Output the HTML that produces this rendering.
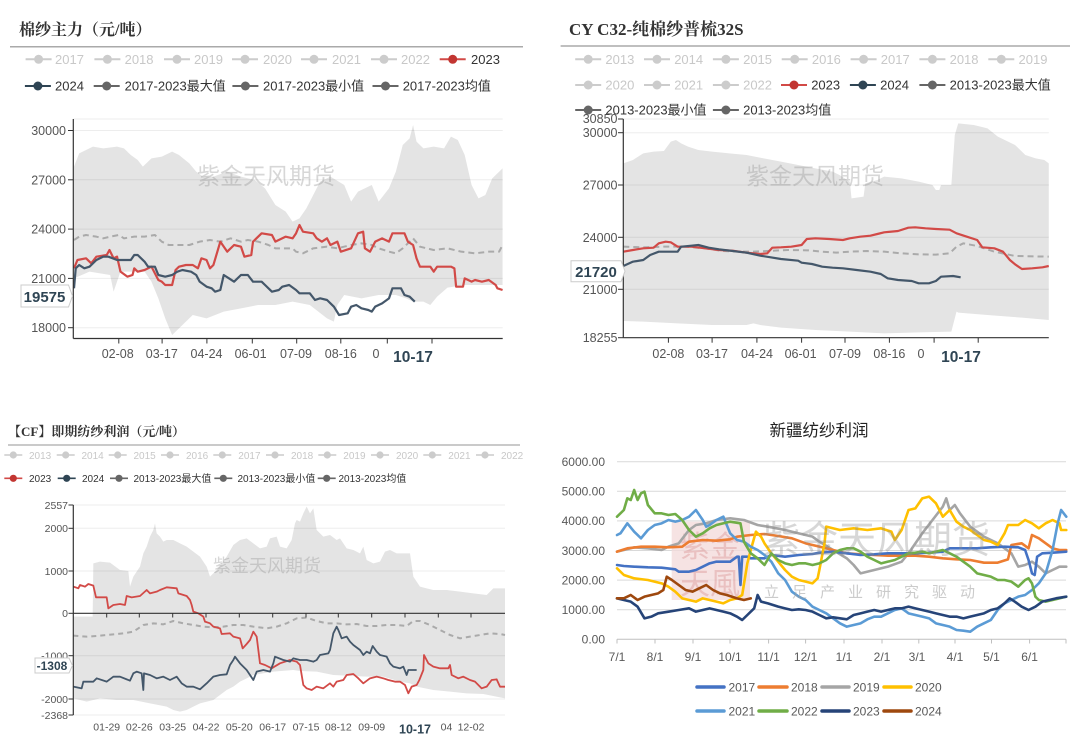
<!DOCTYPE html>
<html><head><meta charset="utf-8">
<style>
html,body{margin:0;padding:0;background:#fff;}
svg{display:block;}
text{font-family:"Liberation Sans","Noto Sans CJK SC",sans-serif;}
.t{font-family:"Liberation Serif","Noto Serif CJK SC",serif;font-weight:bold;fill:#333;}
.ax{font-size:12.5px;fill:#555;}
.ax3{font-size:10.5px;fill:#555;}
.ax4{font-size:12px;fill:#595959;}
.lg{font-size:13px;fill:#333;}
.lgd{font-size:13px;fill:#c8c8c8;}
.lg3{font-size:10px;fill:#333;}
.lg3d{font-size:10px;fill:#c8c8c8;}
.wm{font-family:"Liberation Sans","Noto Sans CJK SC",sans-serif;fill:rgba(150,150,150,0.38);}
.hv{font-weight:bold;fill:#2f4554;}
</style></head><body>
<svg width="1080" height="740" viewBox="0 0 1080 740" xmlns="http://www.w3.org/2000/svg">

<!-- ================= PANEL 1 ================= -->
<text class="t" x="19" y="35" font-size="16">棉纱主力（元/吨）</text>
<line x1="10" y1="46.7" x2="523" y2="46.7" stroke="#aaa" stroke-width="1.5"/>
<g stroke-width="2">
<line x1="25.6" y1="59.3" x2="51.6" y2="59.3" stroke="#ccc"/><circle cx="38.6" cy="59.3" r="4.5" fill="#ccc"/>
<line x1="94.4" y1="59.3" x2="120.4" y2="59.3" stroke="#ccc"/><circle cx="107.4" cy="59.3" r="4.5" fill="#ccc"/>
<line x1="164" y1="59.3" x2="190" y2="59.3" stroke="#ccc"/><circle cx="177" cy="59.3" r="4.5" fill="#ccc"/>
<line x1="232" y1="59.3" x2="258" y2="59.3" stroke="#ccc"/><circle cx="245" cy="59.3" r="4.5" fill="#ccc"/>
<line x1="301" y1="59.3" x2="327" y2="59.3" stroke="#ccc"/><circle cx="314" cy="59.3" r="4.5" fill="#ccc"/>
<line x1="371" y1="59.3" x2="397" y2="59.3" stroke="#ccc"/><circle cx="384" cy="59.3" r="4.5" fill="#ccc"/>
<line x1="439.7" y1="59.3" x2="465.7" y2="59.3" stroke="#d24a47"/><circle cx="452.7" cy="59.3" r="4.5" fill="#c23531"/>
<line x1="24.9" y1="86" x2="50.9" y2="86" stroke="#2f4554"/><circle cx="37.9" cy="86" r="4.5" fill="#2f4554"/>
<line x1="93.7" y1="86" x2="119.7" y2="86" stroke="#666"/><circle cx="106.7" cy="86" r="4.5" fill="#666"/>
<line x1="232.4" y1="86" x2="258.4" y2="86" stroke="#666"/><circle cx="245.4" cy="86" r="4.5" fill="#666"/>
<line x1="372.5" y1="86" x2="398.5" y2="86" stroke="#666"/><circle cx="385.5" cy="86" r="4.5" fill="#666"/>
</g>
<text class="lgd" x="55" y="64">2017</text>
<text class="lgd" x="124.6" y="64">2018</text>
<text class="lgd" x="194" y="64">2019</text>
<text class="lgd" x="263" y="64">2020</text>
<text class="lgd" x="332" y="64">2021</text>
<text class="lgd" x="401" y="64">2022</text>
<text class="lg" x="471" y="64">2023</text>
<text class="lg" x="55" y="90.5">2024</text>
<text class="lg" x="124.6" y="90.5">2017-2023最大值</text>
<text class="lg" x="263" y="90.5">2017-2023最小值</text>
<text class="lg" x="402.7" y="90.5">2017-2023均值</text>

<g transform="translate(0,105) scale(0.34423,0.33333)">
<polygon fill="#e4e4e4" points="215,185 230,145 270,125 300,130 340,125 360,130 380,150 400,165 415,185 440,160 470,155 500,140 520,150 550,175 570,200 590,215 620,215 660,200 700,215 740,225 770,250 800,300 830,320 850,350 870,340 890,310 910,270 930,230 960,215 1000,240 1020,290 1040,260 1080,240 1100,290 1130,250 1150,200 1170,120 1190,100 1200,60 1210,110 1230,130 1260,125 1290,130 1310,95 1330,105 1350,150 1370,240 1390,280 1410,270 1430,220 1460,190 1460,540 1400,540 1350,540 1300,548 1270,575 1250,600 1230,590 1200,590 1180,580 1150,570 1100,570 1050,580 1000,570 980,600 970,650 950,640 900,600 850,590 800,600 750,600 700,610 650,620 600,640 560,630 540,650 520,670 500,690 480,640 460,580 440,530 420,500 350,500 330,560 320,510 260,500 215,520"/>
</g>
<g stroke="rgba(0,0,0,0.07)" stroke-width="1">
<line x1="73.3" y1="119" x2="502.7" y2="119"/>
<line x1="73.3" y1="130.5" x2="502.7" y2="130.5"/>
<line x1="73.3" y1="179.8" x2="502.7" y2="179.8"/>
<line x1="73.3" y1="229.1" x2="502.7" y2="229.1"/>
<line x1="73.3" y1="278.4" x2="502.7" y2="278.4"/>
<line x1="73.3" y1="327.7" x2="502.7" y2="327.7"/>
</g>
<text class="wm" x="266" y="184" font-size="23" text-anchor="middle">紫金天风期货</text>
<g transform="translate(0,105) scale(0.34423,0.33333)" fill="none" stroke-linejoin="round">
<polyline vector-effect="non-scaling-stroke" stroke="#aaa" stroke-width="2" stroke-dasharray="6,4" points="215,405 230,395 250,390 280,395 300,400 320,395 345,390 360,400 390,395 420,395 450,390 470,410 490,420 520,420 550,420 580,410 610,405 640,410 670,400 700,410 720,405 750,410 780,420 800,430 830,430 850,430 860,440 880,445 910,430 950,425 980,430 1020,420 1050,415 1080,420 1100,430 1130,440 1150,445 1170,430 1200,400 1220,425 1260,435 1300,430 1340,440 1380,445 1420,440 1450,440 1460,420"/>
<polyline vector-effect="non-scaling-stroke" stroke="#d24a47" stroke-width="2.2" points="215,490 225,465 250,460 265,475 280,455 310,450 318,435 330,460 340,455 350,500 370,515 385,510 390,490 400,500 420,495 440,485 460,525 470,530 480,540 500,540 510,495 520,485 540,480 560,480 575,490 585,460 600,465 610,490 620,480 640,410 660,440 680,420 700,425 710,455 730,450 735,410 760,385 790,390 800,410 830,395 850,400 860,385 870,360 880,380 910,385 920,400 935,410 950,400 960,420 980,410 990,440 1020,430 1040,385 1055,380 1060,430 1075,440 1090,410 1110,400 1130,410 1140,385 1175,385 1185,410 1200,420 1210,460 1220,485 1250,485 1260,500 1270,485 1310,485 1320,490 1325,545 1345,545 1350,520 1370,530 1380,525 1400,530 1420,525 1440,540 1445,550 1460,555"/>
<polyline vector-effect="non-scaling-stroke" stroke="#44576a" stroke-width="2.2" points="215,550 220,490 230,480 245,490 260,485 280,465 300,455 315,455 340,465 380,465 390,450 400,450 420,470 430,485 450,485 460,510 480,515 500,510 515,500 530,495 555,500 570,510 580,530 600,545 615,550 625,560 640,555 650,510 665,520 680,530 700,510 720,510 735,530 760,530 770,540 790,560 810,555 820,545 840,540 860,555 870,565 900,565 915,585 930,580 950,585 970,605 985,630 1010,625 1020,605 1035,600 1050,610 1070,615 1080,620 1090,605 1100,600 1110,595 1130,580 1140,550 1165,550 1175,570 1190,575 1205,590"/>
</g>
<line x1="73.3" y1="119" x2="73.3" y2="338.5" stroke="#333" stroke-width="1.2"/>
<line x1="73.3" y1="338.5" x2="502.7" y2="338.5" stroke="#333" stroke-width="1.2"/>
<g stroke="#333" stroke-width="1">
<line x1="68" y1="130.5" x2="73.3" y2="130.5"/><line x1="68" y1="179.8" x2="73.3" y2="179.8"/><line x1="68" y1="229.1" x2="73.3" y2="229.1"/><line x1="68" y1="278.4" x2="73.3" y2="278.4"/><line x1="68" y1="327.7" x2="73.3" y2="327.7"/>
<line x1="118.8" y1="338.5" x2="118.8" y2="343.5"/><line x1="162.1" y1="338.5" x2="162.1" y2="343.5"/><line x1="206.9" y1="338.5" x2="206.9" y2="343.5"/><line x1="252.3" y1="338.5" x2="252.3" y2="343.5"/><line x1="296.7" y1="338.5" x2="296.7" y2="343.5"/><line x1="340.8" y1="338.5" x2="340.8" y2="343.5"/><line x1="387.3" y1="338.5" x2="387.3" y2="343.5"/><line x1="432" y1="338.5" x2="432" y2="343.5"/>
</g>
<g class="ax" text-anchor="end">
<text x="66" y="135">30000</text><text x="66" y="184.3">27000</text><text x="66" y="233.6">24000</text><text x="66" y="282.9">21000</text><text x="66" y="332.2">18000</text>
</g>
<g class="ax" text-anchor="middle">
<text x="117.7" y="358">02-08</text><text x="161.8" y="358">03-17</text><text x="206.5" y="358">04-24</text><text x="250.6" y="358">06-01</text><text x="296" y="358">07-09</text><text x="340.8" y="358">08-16</text><text x="376" y="358">0</text>
</g>
<text class="hv" x="413" y="362" font-size="15.5" text-anchor="middle">10-17</text>
<path d="M21,285 H68.5 L72.5,296 L68.5,307 H21 Z" fill="#fff" stroke="#ccc" stroke-width="1"/>
<text class="hv" x="44.5" y="302" font-size="15" text-anchor="middle">19575</text>

<!-- ================= PANEL 2 ================= -->
<text class="t" x="569" y="35" font-size="17">CY C32-纯棉纱普梳32S</text>
<line x1="560.6" y1="46" x2="1070" y2="46" stroke="#aaa" stroke-width="1.5"/>
<g stroke-width="2">
<line x1="575.2" y1="59.3" x2="601.2" y2="59.3" stroke="#ccc"/><circle cx="588.2" cy="59.3" r="4.5" fill="#ccc"/>
<line x1="644" y1="59.3" x2="670" y2="59.3" stroke="#ccc"/><circle cx="657" cy="59.3" r="4.5" fill="#ccc"/>
<line x1="712.9" y1="59.3" x2="738.9" y2="59.3" stroke="#ccc"/><circle cx="725.9" cy="59.3" r="4.5" fill="#ccc"/>
<line x1="781.7" y1="59.3" x2="807.7" y2="59.3" stroke="#ccc"/><circle cx="794.7" cy="59.3" r="4.5" fill="#ccc"/>
<line x1="850.6" y1="59.3" x2="876.6" y2="59.3" stroke="#ccc"/><circle cx="863.6" cy="59.3" r="4.5" fill="#ccc"/>
<line x1="919.4" y1="59.3" x2="945.4" y2="59.3" stroke="#ccc"/><circle cx="932.4" cy="59.3" r="4.5" fill="#ccc"/>
<line x1="988.3" y1="59.3" x2="1014.3" y2="59.3" stroke="#ccc"/><circle cx="1001.3" cy="59.3" r="4.5" fill="#ccc"/>
<line x1="575.2" y1="85" x2="601.2" y2="85" stroke="#ccc"/><circle cx="588.2" cy="85" r="4.5" fill="#ccc"/>
<line x1="644" y1="85" x2="670" y2="85" stroke="#ccc"/><circle cx="657" cy="85" r="4.5" fill="#ccc"/>
<line x1="712.9" y1="85" x2="738.9" y2="85" stroke="#ccc"/><circle cx="725.9" cy="85" r="4.5" fill="#ccc"/>
<line x1="781" y1="85" x2="807" y2="85" stroke="#d24a47"/><circle cx="794" cy="85" r="4.5" fill="#c23531"/>
<line x1="849.9" y1="85" x2="875.9" y2="85" stroke="#2f4554"/><circle cx="862.9" cy="85" r="4.5" fill="#2f4554"/>
<line x1="919.4" y1="85" x2="945.4" y2="85" stroke="#666"/><circle cx="932.4" cy="85" r="4.5" fill="#666"/>
</g>
<g class="ax" text-anchor="end">
<text x="617.5" y="123">30850</text>
</g>
<g stroke-width="2">
<line x1="575.2" y1="110" x2="601.2" y2="110" stroke="#666"/><circle cx="588.2" cy="110" r="4.5" fill="#666"/>
<line x1="712.9" y1="110" x2="738.9" y2="110" stroke="#666"/><circle cx="725.9" cy="110" r="4.5" fill="#666"/>
</g>
<text class="lgd" x="605.4" y="64">2013</text><text class="lgd" x="674.2" y="64">2014</text><text class="lgd" x="743.1" y="64">2015</text><text class="lgd" x="811.9" y="64">2016</text><text class="lgd" x="880.8" y="64">2017</text><text class="lgd" x="949.6" y="64">2018</text><text class="lgd" x="1018.5" y="64">2019</text>
<text class="lgd" x="605.4" y="89.5">2020</text><text class="lgd" x="674.2" y="89.5">2021</text><text class="lgd" x="743.1" y="89.5">2022</text><text class="lg" x="811.2" y="89.5">2023</text><text class="lg" x="880.1" y="89.5">2024</text><text class="lg" x="949.6" y="89.5">2013-2023最大值</text>
<text class="lg" x="605.4" y="114.5">2013-2023最小值</text><text class="lg" x="743.1" y="114.5">2013-2023均值</text>

<g transform="translate(540,105) scale(0.34423,0.33333)">
<polygon fill="#e4e4e4" points="242,175 270,165 300,145 330,140 360,138 380,110 395,105 410,115 430,125 460,135 500,140 550,145 600,150 650,160 700,170 750,180 800,190 850,200 870,210 900,230 905,280 940,275 945,235 980,225 1000,215 1050,220 1100,230 1140,240 1150,255 1160,255 1165,240 1195,240 1205,90 1215,55 1260,60 1300,70 1330,95 1380,120 1410,150 1440,160 1465,165 1478,175 1478,645 1400,638 1300,630 1215,623 1210,620 1195,680 1100,682 1000,685 900,680 800,675 700,668 640,660 620,655 600,660 500,660 400,655 300,650 242,648"/>
</g>
<g stroke="rgba(0,0,0,0.07)" stroke-width="1">
<line x1="623.3" y1="119" x2="1048.8" y2="119"/>
<line x1="623.3" y1="132.7" x2="1048.8" y2="132.7"/>
<line x1="623.3" y1="185" x2="1048.8" y2="185"/>
<line x1="623.3" y1="237.3" x2="1048.8" y2="237.3"/>
<line x1="623.3" y1="289.3" x2="1048.8" y2="289.3"/>
</g>
<text class="wm" x="815" y="184" font-size="23" text-anchor="middle">紫金天风期货</text>
<g transform="translate(540,105) scale(0.34423,0.33333)" fill="none" stroke-linejoin="round">
<polyline vector-effect="non-scaling-stroke" stroke="#aaa" stroke-width="2" stroke-dasharray="6,4" points="242,425 300,427 360,425 420,425 480,430 530,438 580,440 620,440 680,437 720,435 780,436 820,440 860,443 900,440 950,438 1000,440 1050,445 1100,448 1150,449 1190,445 1210,425 1230,415 1270,423 1320,440 1380,453 1478,455"/>
<polyline vector-effect="non-scaling-stroke" stroke="#d24a47" stroke-width="2.2" points="242,440 270,435 300,430 330,428 345,415 365,410 380,412 400,425 440,425 480,430 520,435 560,437 600,443 640,447 660,445 675,428 700,427 730,425 760,420 775,402 800,400 840,402 880,405 900,400 930,395 960,392 980,387 1000,382 1040,378 1070,368 1090,367 1120,370 1150,372 1190,374 1210,385 1240,395 1270,405 1285,427 1320,430 1345,440 1365,465 1380,478 1400,492 1430,490 1460,487 1478,483"/>
<polyline vector-effect="non-scaling-stroke" stroke="#44576a" stroke-width="2.2" points="242,483 270,470 300,465 320,450 345,440 400,440 410,425 440,422 460,420 490,428 520,433 560,438 600,443 640,452 670,457 700,462 750,467 760,473 790,477 820,485 850,488 880,490 920,495 960,500 990,507 1010,520 1040,525 1080,528 1100,535 1130,535 1150,528 1165,515 1200,513 1222,517"/>
</g>
<line x1="623.3" y1="119" x2="623.3" y2="337.7" stroke="#333" stroke-width="1.2"/>
<line x1="623.3" y1="337.7" x2="1048.8" y2="337.7" stroke="#333" stroke-width="1.2"/>
<g stroke="#333" stroke-width="1">
<line x1="618" y1="132.7" x2="623.3" y2="132.7"/><line x1="618" y1="185" x2="623.3" y2="185"/><line x1="618" y1="237.3" x2="623.3" y2="237.3"/><line x1="618" y1="289.3" x2="623.3" y2="289.3"/><line x1="618" y1="337.7" x2="623.3" y2="337.7"/><line x1="618" y1="119" x2="623.3" y2="119"/>
<line x1="668.4" y1="337.7" x2="668.4" y2="342.7"/><line x1="712.1" y1="337.7" x2="712.1" y2="342.7"/><line x1="756.9" y1="337.7" x2="756.9" y2="342.7"/><line x1="801.6" y1="337.7" x2="801.6" y2="342.7"/><line x1="845" y1="337.7" x2="845" y2="342.7"/><line x1="889.4" y1="337.7" x2="889.4" y2="342.7"/><line x1="934.1" y1="337.7" x2="934.1" y2="342.7"/><line x1="978.2" y1="337.7" x2="978.2" y2="342.7"/>
</g>
<g class="ax" text-anchor="end">
<text x="617.5" y="137.2">30000</text><text x="617.5" y="189.5">27000</text><text x="617.5" y="241.8">24000</text><text x="617.5" y="293.8">21000</text><text x="617.5" y="342.2">18255</text>
</g>
<g class="ax" text-anchor="middle">
<text x="668.4" y="358">02-08</text><text x="712" y="358">03-17</text><text x="757" y="358">04-24</text><text x="800.6" y="358">06-01</text><text x="845" y="358">07-09</text><text x="889.4" y="358">08-16</text><text x="921" y="358">0</text>
</g>
<text class="hv" x="961" y="362" font-size="15.5" text-anchor="middle">10-17</text>
<path d="M571,260.7 H621 L625,271.2 L621,281.7 H571 Z" fill="#fff" stroke="#ccc" stroke-width="1"/>
<text class="hv" x="596" y="277" font-size="15" text-anchor="middle">21720</text>

<!-- ================= PANEL 3 ================= -->
<text class="t" x="8" y="436" font-size="13">【CF】即期纺纱利润（元/吨）</text>
<line x1="8" y1="445" x2="520" y2="445" stroke="#aaa" stroke-width="1.2"/>
<g stroke-width="1.6">
<line x1="4.3" y1="455" x2="22.3" y2="455" stroke="#ccc"/><circle cx="13.3" cy="455" r="3.6" fill="#ccc"/>
<line x1="56.7" y1="455" x2="74.7" y2="455" stroke="#ccc"/><circle cx="65.7" cy="455" r="3.6" fill="#ccc"/>
<line x1="108.7" y1="455" x2="126.7" y2="455" stroke="#ccc"/><circle cx="117.7" cy="455" r="3.6" fill="#ccc"/>
<line x1="161" y1="455" x2="179" y2="455" stroke="#ccc"/><circle cx="170" cy="455" r="3.6" fill="#ccc"/>
<line x1="213.3" y1="455" x2="231.3" y2="455" stroke="#ccc"/><circle cx="222.3" cy="455" r="3.6" fill="#ccc"/>
<line x1="266" y1="455" x2="284" y2="455" stroke="#ccc"/><circle cx="275" cy="455" r="3.6" fill="#ccc"/>
<line x1="318.3" y1="455" x2="336.3" y2="455" stroke="#ccc"/><circle cx="327.3" cy="455" r="3.6" fill="#ccc"/>
<line x1="371" y1="455" x2="389" y2="455" stroke="#ccc"/><circle cx="380" cy="455" r="3.6" fill="#ccc"/>
<line x1="423.3" y1="455" x2="441.3" y2="455" stroke="#ccc"/><circle cx="432.3" cy="455" r="3.6" fill="#ccc"/>
<line x1="476" y1="455" x2="494" y2="455" stroke="#ccc"/><circle cx="485" cy="455" r="3.6" fill="#ccc"/>
<line x1="4.3" y1="478.3" x2="22.3" y2="478.3" stroke="#d24a47"/><circle cx="13.3" cy="478.3" r="3.6" fill="#c23531"/>
<line x1="57.7" y1="478.3" x2="75.7" y2="478.3" stroke="#2f4554"/><circle cx="66.7" cy="478.3" r="3.6" fill="#2f4554"/>
<line x1="110" y1="478.3" x2="128" y2="478.3" stroke="#666"/><circle cx="119" cy="478.3" r="3.6" fill="#666"/>
<line x1="214.3" y1="478.3" x2="232.3" y2="478.3" stroke="#666"/><circle cx="223.3" cy="478.3" r="3.6" fill="#666"/>
<line x1="317.7" y1="478.3" x2="335.7" y2="478.3" stroke="#666"/><circle cx="326.7" cy="478.3" r="3.6" fill="#666"/>
</g>
<text class="lg3d" x="29" y="458.8">2013</text><text class="lg3d" x="81.5" y="458.8">2014</text><text class="lg3d" x="133.5" y="458.8">2015</text><text class="lg3d" x="186" y="458.8">2016</text><text class="lg3d" x="238.3" y="458.8">2017</text><text class="lg3d" x="291" y="458.8">2018</text><text class="lg3d" x="343.3" y="458.8">2019</text><text class="lg3d" x="396" y="458.8">2020</text><text class="lg3d" x="448.3" y="458.8">2021</text><text class="lg3d" x="501" y="458.8">2022</text>
<text class="lg3" x="29" y="482">2023</text><text class="lg3" x="82" y="482">2024</text><text class="lg3" x="133.5" y="482">2013-2023最大值</text><text class="lg3" x="237.5" y="482">2013-2023最小值</text><text class="lg3" x="338.5" y="482">2013-2023均值</text>

<g transform="translate(0,490) scale(0.33333,0.33333)">
<polygon fill="#e4e4e4" points="220,380 278,380 280,220 300,215 330,218 360,240 385,243 390,290 400,260 420,230 430,190 440,170 450,140 460,120 465,100 470,130 480,140 490,155 500,150 520,150 540,160 560,170 580,185 600,200 620,230 630,260 650,240 680,200 700,165 720,150 740,145 760,160 780,175 800,170 810,145 830,140 840,170 860,175 875,150 885,100 890,90 900,95 910,70 915,60 920,50 930,70 940,55 950,120 970,140 990,135 1010,150 1020,145 1040,175 1060,180 1080,190 1090,170 1100,210 1120,220 1140,215 1155,185 1170,180 1190,190 1220,190 1230,190 1240,260 1260,290 1280,295 1300,300 1340,300 1380,305 1420,310 1460,315 1480,295 1515,295 1515,625 1450,612 1400,610 1350,605 1300,600 1250,590 1230,580 1200,575 1150,560 1100,560 1000,555 950,545 900,543 880,540 820,545 760,555 740,565 720,575 700,590 680,600 660,615 640,630 600,640 580,650 560,660 540,665 520,660 500,650 450,640 400,630 350,630 300,625 260,635 240,630 220,625"/>
</g>
<g stroke="rgba(0,0,0,0.07)" stroke-width="1">
<line x1="73.3" y1="505" x2="505" y2="505"/>
<line x1="73.3" y1="528.3" x2="505" y2="528.3"/>
<line x1="73.3" y1="571" x2="505" y2="571"/>
<line x1="73.3" y1="655.7" x2="505" y2="655.7"/>
<line x1="73.3" y1="699" x2="505" y2="699"/>
<line x1="73.3" y1="715" x2="505" y2="715"/>
</g>
<text class="wm" x="267" y="572" font-size="18" text-anchor="middle">紫金天风期货</text>
<g transform="translate(0,490) scale(0.33333,0.33333)" fill="none" stroke-linejoin="round">
<polyline vector-effect="non-scaling-stroke" stroke="#aaa" stroke-width="2" stroke-dasharray="5,4" points="220,437 260,440 300,437 340,433 370,430 400,425 430,405 460,400 490,403 520,393 550,400 580,405 610,410 640,412 670,410 700,405 730,405 760,410 800,415 830,410 860,400 890,385 920,383 950,393 980,400 1010,400 1040,403 1070,402 1100,408 1130,408 1160,405 1190,405 1220,408 1240,393 1260,393 1290,405 1320,420 1350,435 1380,445 1410,440 1440,435 1470,430 1500,432 1515,435"/>
<polyline vector-effect="non-scaling-stroke" stroke="#d24a47" stroke-width="1.8" points="220,290 235,295 240,285 255,290 265,282 280,287 288,322 320,322 325,355 340,345 360,342 375,345 380,318 395,322 420,318 440,300 450,310 470,305 480,300 500,292 530,295 535,310 560,318 570,330 575,345 580,365 595,370 610,380 615,395 630,400 640,410 660,415 665,432 690,430 700,440 720,445 728,475 740,462 750,450 760,425 770,440 780,520 795,525 815,535 840,520 870,510 890,515 900,525 910,585 920,595 935,600 950,590 970,595 990,580 1000,590 1010,575 1030,570 1040,555 1060,552 1075,565 1090,580 1110,565 1130,560 1150,565 1165,570 1185,575 1200,575 1215,585 1225,610 1235,590 1250,585 1258,570 1270,540 1272,495 1285,520 1300,530 1320,535 1345,535 1350,525 1355,555 1375,565 1390,560 1410,570 1425,575 1445,595 1460,590 1475,570 1490,568 1500,590 1515,590"/>
<polyline vector-effect="non-scaling-stroke" stroke="#44576a" stroke-width="1.8" points="220,590 245,595 250,575 280,575 290,565 320,575 340,560 360,560 390,572 400,550 410,545 425,550 430,600 432,550 450,555 470,565 490,560 510,570 530,560 545,580 560,590 580,590 600,598 620,580 640,560 660,555 680,553 690,525 700,510 705,500 720,520 740,540 760,570 770,545 790,540 810,545 820,520 825,500 850,510 870,515 880,505 900,510 920,510 940,515 950,510 960,495 985,490 990,480 1000,430 1010,410 1015,420 1025,445 1040,440 1050,455 1060,465 1080,480 1090,495 1100,485 1110,490 1118,468 1130,485 1140,495 1160,500 1170,520 1180,530 1200,535 1210,530 1220,555 1225,540 1250,540"/>
</g>
<line x1="73.3" y1="505" x2="73.3" y2="715" stroke="#333" stroke-width="1.2"/>
<line x1="73.3" y1="613.3" x2="505" y2="613.3" stroke="#333" stroke-width="1.2"/>
<g stroke="#333" stroke-width="1">
<line x1="68.5" y1="505" x2="73.3" y2="505"/><line x1="68.5" y1="528.3" x2="73.3" y2="528.3"/><line x1="68.5" y1="571" x2="73.3" y2="571"/><line x1="68.5" y1="613.3" x2="73.3" y2="613.3"/><line x1="68.5" y1="655.7" x2="73.3" y2="655.7"/><line x1="68.5" y1="699" x2="73.3" y2="699"/><line x1="68.5" y1="715" x2="73.3" y2="715"/>
<line x1="106.7" y1="613.3" x2="106.7" y2="617.5"/><line x1="139.3" y1="613.3" x2="139.3" y2="617.5"/><line x1="172.7" y1="613.3" x2="172.7" y2="617.5"/><line x1="206" y1="613.3" x2="206" y2="617.5"/><line x1="239.3" y1="613.3" x2="239.3" y2="617.5"/><line x1="272.7" y1="613.3" x2="272.7" y2="617.5"/><line x1="306" y1="613.3" x2="306" y2="617.5"/><line x1="338.3" y1="613.3" x2="338.3" y2="617.5"/><line x1="371.7" y1="613.3" x2="371.7" y2="617.5"/><line x1="405" y1="613.3" x2="405" y2="617.5"/><line x1="438.3" y1="613.3" x2="438.3" y2="617.5"/><line x1="471" y1="613.3" x2="471" y2="617.5"/>
</g>
<g class="ax3" text-anchor="end">
<text x="68" y="508.8">2557</text><text x="68" y="532.1">2000</text><text x="68" y="574.8">1000</text><text x="68" y="617.1">0</text><text x="68" y="659.5">-1000</text><text x="68" y="702.8">-2000</text><text x="68" y="718.8">-2368</text>
</g>
<g class="ax3" text-anchor="middle">
<text x="106.7" y="730.7">01-29</text><text x="139.3" y="730.7">02-26</text><text x="172.7" y="730.7">03-25</text><text x="206" y="730.7">04-22</text><text x="239.3" y="730.7">05-20</text><text x="272.7" y="730.7">06-17</text><text x="306" y="730.7">07-15</text><text x="338.3" y="730.7">08-12</text><text x="371.7" y="730.7">09-09</text><text x="446.5" y="730.7">04</text><text x="471" y="730.7">12-02</text>
</g>
<text class="hv" x="415" y="733.5" font-size="12.5" text-anchor="middle">10-17</text>
<path d="M35,658 H69 L72.5,665.5 L69,673 H35 Z" fill="#fff" stroke="#ccc" stroke-width="1"/>
<text class="hv" x="52" y="670" font-size="12" text-anchor="middle">-1308</text>

<!-- ================= PANEL 4 ================= -->
<text x="819" y="436" font-size="16.5" fill="#222" text-anchor="middle">新疆纺纱利润</text>
<g stroke="#d9d9d9" stroke-width="1">
<line x1="617" y1="461.7" x2="1066" y2="461.7"/>
<line x1="617" y1="491.3" x2="1066" y2="491.3"/>
<line x1="617" y1="520.9" x2="1066" y2="520.9"/>
<line x1="617" y1="550.5" x2="1066" y2="550.5"/>
<line x1="617" y1="580.1" x2="1066" y2="580.1"/>
<line x1="617" y1="609.7" x2="1066" y2="609.7"/>
</g>
<line x1="617" y1="639.3" x2="1066" y2="639.3" stroke="#bfbfbf" stroke-width="1"/>
<g stroke="#bfbfbf" stroke-width="1">
<line x1="617" y1="639.3" x2="617" y2="643.5"/><line x1="655" y1="639.3" x2="655" y2="643.5"/><line x1="693" y1="639.3" x2="693" y2="643.5"/><line x1="730" y1="639.3" x2="730" y2="643.5"/><line x1="768.6" y1="639.3" x2="768.6" y2="643.5"/><line x1="805.6" y1="639.3" x2="805.6" y2="643.5"/><line x1="844" y1="639.3" x2="844" y2="643.5"/><line x1="882" y1="639.3" x2="882" y2="643.5"/><line x1="918.8" y1="639.3" x2="918.8" y2="643.5"/><line x1="955" y1="639.3" x2="955" y2="643.5"/><line x1="991.5" y1="639.3" x2="991.5" y2="643.5"/><line x1="1029.6" y1="639.3" x2="1029.6" y2="643.5"/><line x1="1066" y1="639.3" x2="1066" y2="643.5"/>
</g>
<g class="ax4" text-anchor="end">
<text x="605" y="466">6000.00</text><text x="605" y="495.6">5000.00</text><text x="605" y="525.2">4000.00</text><text x="605" y="554.8">3000.00</text><text x="605" y="584.4">2000.00</text><text x="605" y="614">1000.00</text><text x="605" y="643.6">0.00</text>
</g>
<g class="ax4" text-anchor="middle">
<text x="617" y="661">7/1</text><text x="655" y="661">8/1</text><text x="693" y="661">9/1</text><text x="730" y="661">10/1</text><text x="768.6" y="661">11/1</text><text x="805.6" y="661">12/1</text><text x="844" y="661">1/1</text><text x="882" y="661">2/1</text><text x="917" y="661">3/1</text><text x="955" y="661">4/1</text><text x="991.5" y="661">5/1</text><text x="1029.6" y="661">6/1</text>
</g>
<!-- logo seal -->
<rect x="671.7" y="521.7" width="78.3" height="78.3" fill="#f3d9d9" opacity="0.75"/>
<text x="710" y="557" font-size="30" fill="rgba(200,90,90,0.25)" text-anchor="middle">紫金</text>
<text x="710" y="594" font-size="30" fill="rgba(200,90,90,0.25)" text-anchor="middle">天風</text>
<g transform="translate(545,410) scale(0.34294,0.33333)" fill="none" stroke-linejoin="round" stroke-linecap="round">
<polyline vector-effect="non-scaling-stroke" stroke="#A5A5A5" stroke-width="2.6" points="210,425 230,420 260,412 300,415 340,420 360,410 390,400 420,360 440,345 470,340 500,330 540,325 580,330 620,345 660,352 700,360 740,370 780,380 800,395 840,420 880,445 900,465 920,490 960,480 1000,470 1040,455 1060,430 1080,400 1100,370 1130,330 1160,290 1170,265 1180,300 1195,285 1210,310 1240,350 1280,380 1320,400 1360,430 1380,470 1400,465 1420,455 1440,470 1460,490 1480,480 1500,470 1520,470"/>
<polyline vector-effect="non-scaling-stroke" stroke="#ED7D31" stroke-width="2.6" points="210,425 240,415 280,410 320,410 360,412 400,410 420,395 460,390 500,392 540,388 560,380 600,375 640,372 680,378 720,385 760,400 800,410 840,420 880,430 920,433 960,435 1000,437 1040,437 1080,437 1120,440 1160,445 1200,448 1240,450 1280,458 1320,458 1350,448 1360,405 1390,400 1410,415 1420,375 1440,385 1460,400 1480,415 1500,420 1520,420"/>
<polyline vector-effect="non-scaling-stroke" stroke="#4472C4" stroke-width="2.6" points="210,465 230,468 260,470 300,472 340,473 380,478 390,485 420,485 440,480 460,470 480,460 500,455 540,455 560,440 565,440 570,525 575,440 590,440 600,445 640,445 660,435 700,440 740,435 780,432 800,428 840,425 880,430 920,435 960,433 1000,430 1040,430 1080,430 1120,428 1160,425 1180,415 1220,415 1260,415 1300,412 1340,410 1380,412 1400,420 1410,450 1420,490 1428,495 1435,440 1450,430 1480,428 1520,425"/>
<polyline vector-effect="non-scaling-stroke" stroke="#FFC000" stroke-width="2.6" points="210,475 230,495 260,505 300,510 340,520 360,530 380,545 400,565 420,570 440,575 460,565 480,570 500,575 520,580 540,570 560,565 575,555 590,460 600,420 615,365 630,380 640,400 660,430 680,455 700,480 720,500 740,510 760,515 780,520 795,505 800,480 815,400 820,350 860,360 900,355 940,360 980,355 1010,365 1020,390 1040,360 1060,300 1080,295 1100,265 1120,260 1140,280 1160,320 1180,300 1200,335 1220,350 1240,360 1260,375 1280,390 1300,395 1320,405 1340,370 1350,345 1380,345 1400,330 1420,340 1440,355 1460,340 1480,330 1500,340 1505,360 1520,360"/>
<polyline vector-effect="non-scaling-stroke" stroke="#5B9BD5" stroke-width="2.6" points="210,375 220,370 240,340 260,365 280,385 300,360 320,345 340,340 360,330 380,335 400,330 420,320 440,300 460,330 470,350 480,345 500,330 520,320 540,370 560,390 580,395 600,410 620,420 640,435 660,455 680,490 700,510 720,545 740,560 760,570 780,590 800,600 820,610 840,625 860,640 880,650 900,645 920,640 940,628 960,620 980,620 1000,610 1020,600 1040,595 1060,610 1080,615 1100,620 1120,625 1140,640 1160,645 1180,650 1200,660 1220,662 1240,665 1260,650 1280,640 1300,630 1320,600 1340,580 1360,570 1380,560 1400,555 1420,540 1440,520 1460,490 1480,420 1495,340 1505,300 1520,320"/>
<polyline vector-effect="non-scaling-stroke" stroke="#70AD47" stroke-width="2.6" points="210,320 230,300 240,265 250,270 260,240 270,270 280,250 290,245 300,285 320,310 340,310 360,315 380,312 400,330 420,360 440,380 460,370 480,355 500,345 540,335 570,340 580,395 600,430 620,445 640,465 660,430 680,450 700,460 720,465 740,460 760,460 780,465 800,460 820,450 840,430 860,420 880,415 900,415 920,425 940,440 960,450 980,460 1000,455 1020,450 1040,440 1060,430 1080,428 1100,425 1120,430 1140,425 1160,420 1180,430 1200,440 1220,455 1240,470 1260,490 1280,495 1300,500 1320,510 1340,510 1360,515 1380,530 1400,510 1410,505 1420,520 1430,560 1440,570 1460,575 1480,570 1500,565 1520,560"/>
<polyline vector-effect="non-scaling-stroke" stroke="#264478" stroke-width="2.6" points="210,565 230,570 250,575 270,590 290,625 310,620 330,610 360,605 390,600 420,595 440,605 460,600 480,595 500,600 520,605 540,610 560,620 575,630 590,615 610,595 620,555 630,575 650,580 680,590 700,595 720,600 740,598 760,600 780,605 800,615 820,625 840,622 860,625 880,628 900,615 920,610 940,605 960,600 980,605 1000,600 1020,595 1040,595 1060,590 1080,595 1100,600 1120,605 1140,610 1160,615 1180,620 1200,620 1220,625 1240,620 1260,615 1280,610 1300,600 1320,595 1340,580 1355,565 1370,575 1390,590 1410,600 1430,590 1450,575 1470,570 1490,565 1520,560"/>
<polyline vector-effect="non-scaling-stroke" stroke="#9E480E" stroke-width="2.6" points="210,565 230,565 250,555 270,570 290,560 310,555 330,550 345,540 355,500 370,510 390,525 410,540 430,545 450,535 470,525 490,540 510,550 530,555 560,565 580,570 600,565"/>
</g>
<text x="876" y="553" font-size="38" fill="rgba(140,140,140,0.35)" text-anchor="middle" font-family="Liberation Sans, Noto Sans CJK SC, sans-serif">紫金天风期货</text>
<text x="876" y="597" font-size="15" fill="rgba(160,160,160,0.55)" text-anchor="middle" letter-spacing="13">立足产业研究驱动</text>
<!-- legend -->
<g stroke-width="3.5" stroke-linecap="round">
<line x1="697" y1="687" x2="724" y2="687" stroke="#4472C4"/>
<line x1="759" y1="687" x2="787" y2="687" stroke="#ED7D31"/>
<line x1="822" y1="687" x2="849" y2="687" stroke="#A5A5A5"/>
<line x1="884" y1="687" x2="911" y2="687" stroke="#FFC000"/>
<line x1="697" y1="711" x2="724" y2="711" stroke="#5B9BD5"/>
<line x1="759" y1="711" x2="787" y2="711" stroke="#70AD47"/>
<line x1="822" y1="711" x2="849" y2="711" stroke="#264478"/>
<line x1="884" y1="711" x2="911" y2="711" stroke="#9E480E"/>
</g>
<g class="ax4">
<text x="728.5" y="691.3">2017</text><text x="791" y="691.3">2018</text><text x="853" y="691.3">2019</text><text x="915" y="691.3">2020</text>
<text x="728.5" y="715.3">2021</text><text x="791" y="715.3">2022</text><text x="853" y="715.3">2023</text><text x="915" y="715.3">2024</text>
</g>
</svg>
</body></html>
